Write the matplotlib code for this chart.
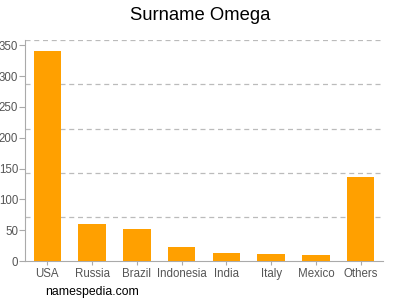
import matplotlib
matplotlib.use("Agg")
import matplotlib.pyplot as plt
from matplotlib.ticker import MultipleLocator

# data
countries = ["USA", "Russia", "Brazil", "Indonesia", "India", "Italy", "Mexico", "Others"]
counts = [341, 60, 52, 23, 13, 12, 10, 137]
y_top = 358

plt.rcParams['font.family'] = ['Liberation Sans', 'DejaVu Sans']

fig = plt.figure(figsize=(4, 3), dpi=100)
axe = fig.add_axes([0.0625, 0.13, 0.895, 0.7357])

x = range(len(countries))
axe.bar(x, counts, width=0.62, color='#FFA000', zorder=3)

axe.set_xlim(-0.5, len(countries) - 0.5)
axe.set_ylim(0, y_top)
axe.yaxis.set_major_locator(MultipleLocator(50))
axe.set_xticks(list(x))
axe.set_xticklabels(countries)

# dashed grid splits the axis in five equal parts
for i in range(1, 6):
    axe.axhline(y_top * i / 5, color='#bbbbbb', linestyle=(0, (4, 3)), linewidth=0.9, zorder=1)

for side in ['top', 'right']:
    axe.spines[side].set_visible(False)
for side in ['left', 'bottom']:
    axe.spines[side].set_color('#aaaaaa')
axe.tick_params(axis='both', colors='#aaaaaa', labelcolor='#555555', labelsize=8.3, length=4, width=0.8)
axe.tick_params(axis='x', length=3, pad=2)
axe.tick_params(axis='y', pad=1)

fig.text(0.5, 0.95, "Surname Omega", ha='center', va='center', fontsize=13.3, color='#000000')
fig.text(0.113, 0.027, "namespedia.com", ha='left', va='center', fontsize=8.8, color='#000000')

fig.savefig("out.png", dpi=100)
plt.close()
